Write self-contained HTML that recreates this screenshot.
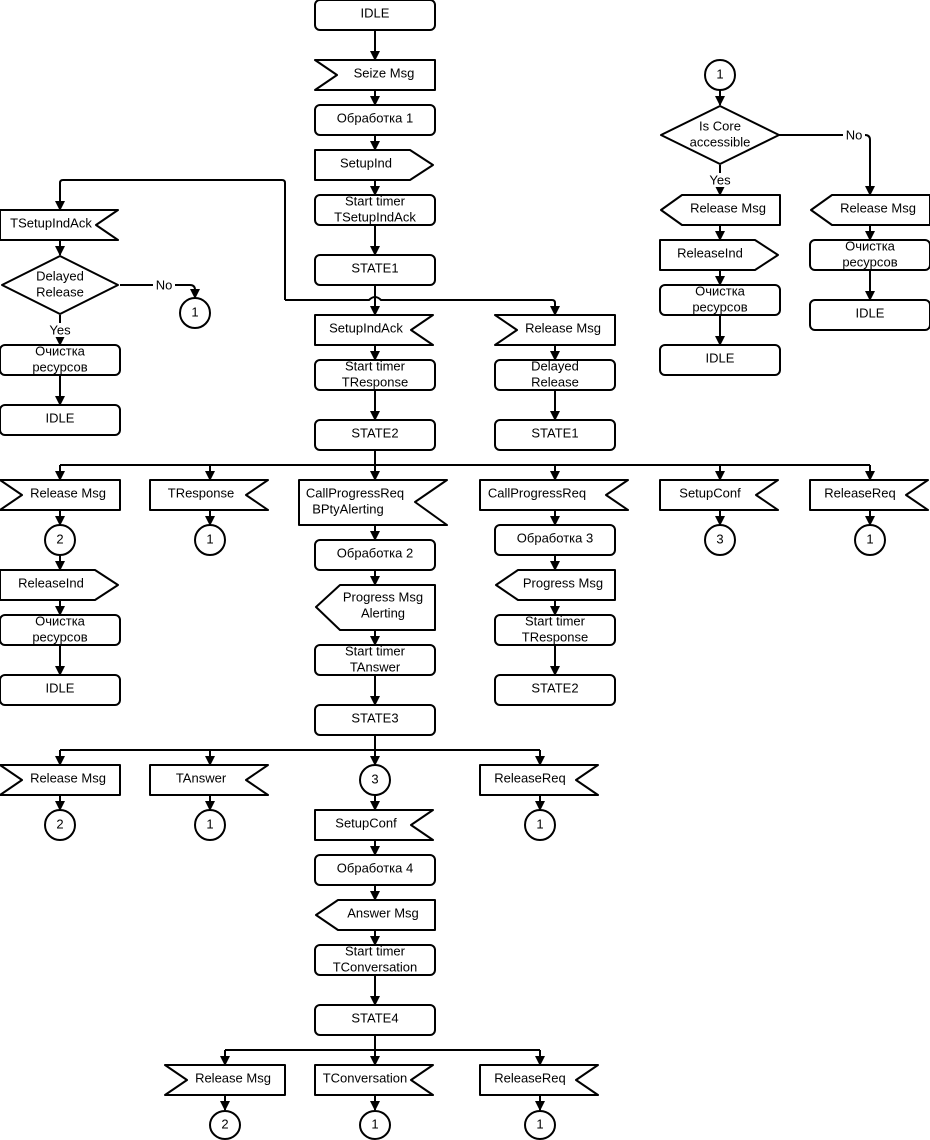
<!DOCTYPE html>
<html><head><meta charset="utf-8"><style>
html,body{margin:0;padding:0;background:#fff;}
svg{display:block;}
text{font-family:"Liberation Sans",sans-serif;font-size:13px;fill:#000;text-anchor:middle;dominant-baseline:central;}
.s{fill:#fff;stroke:#000;stroke-width:2;stroke-linejoin:round;}
.l{fill:none;stroke:#000;stroke-width:2;}
.a{fill:none;stroke:#000;stroke-width:2;marker-end:url(#ar);}
</style></head><body>
<svg width="930" height="1140" viewBox="0 0 930 1140" xmlns="http://www.w3.org/2000/svg">
<defs><marker id="ar" markerWidth="10" markerHeight="10" refX="9" refY="5" orient="auto" markerUnits="userSpaceOnUse"><path d="M0,0 L10,5 L0,10 z" fill="#000"/></marker></defs>

<!-- main column connectors -->
<line class="a" x1="375" y1="30" x2="375" y2="60"/>
<line class="a" x1="375" y1="90" x2="375" y2="105"/>
<line class="a" x1="375" y1="135" x2="375" y2="150"/>
<line class="a" x1="375" y1="180" x2="375" y2="195"/>
<line class="a" x1="375" y1="225" x2="375" y2="255"/>
<line class="a" x1="375" y1="285" x2="375" y2="315"/>
<line class="a" x1="375" y1="345" x2="375" y2="360"/>
<line class="a" x1="375" y1="390" x2="375" y2="420"/>
<line class="l" x1="375" y1="450" x2="375" y2="465"/>
<line class="l" x1="60" y1="465" x2="870" y2="465"/>
<line class="a" x1="60" y1="465" x2="60" y2="480"/>
<line class="a" x1="210" y1="465" x2="210" y2="480"/>
<line class="a" x1="375" y1="465" x2="375" y2="480"/>
<line class="a" x1="555" y1="465" x2="555" y2="480"/>
<line class="a" x1="720" y1="465" x2="720" y2="480"/>
<line class="a" x1="870" y1="465" x2="870" y2="480"/>

<!-- loop to left branch and to right (Release Msg) -->
<path class="a" d="M285,300 L285,183 Q285,180 282,180 L63,180 Q60,180 60,183 L60,210"/>
<path class="l" d="M285,300 L369,300 Q375,294 381,300 L552,300 Q555,300 555,303"/>
<line class="a" x1="555" y1="303" x2="555" y2="315"/>

<!-- left column -->
<line class="a" x1="60" y1="240" x2="60" y2="255"/>
<path class="a" d="M120,285 L190,285 Q195,285 195,290 L195,298"/>
<line class="a" x1="60" y1="315" x2="60" y2="345"/>
<line class="a" x1="60" y1="375" x2="60" y2="405"/>

<!-- 555 column -->
<line class="a" x1="555" y1="345" x2="555" y2="360"/>
<line class="a" x1="555" y1="390" x2="555" y2="420"/>

<!-- right top -->
<line class="a" x1="720" y1="90" x2="720" y2="105"/>
<line class="a" x1="720" y1="165" x2="720" y2="195"/>
<path class="a" d="M779,135 L865,135 Q870,135 870,140 L870,195"/>
<line class="a" x1="720" y1="225" x2="720" y2="240"/>
<line class="a" x1="720" y1="270" x2="720" y2="285"/>
<line class="a" x1="720" y1="315" x2="720" y2="345"/>
<line class="a" x1="870" y1="225" x2="870" y2="240"/>
<line class="a" x1="870" y1="270" x2="870" y2="300"/>

<!-- row 480 children -->
<line class="a" x1="60" y1="510" x2="60" y2="525"/>
<line class="a" x1="60" y1="555" x2="60" y2="570"/>
<line class="a" x1="60" y1="600" x2="60" y2="615"/>
<line class="a" x1="60" y1="645" x2="60" y2="675"/>
<line class="a" x1="210" y1="510" x2="210" y2="525"/>
<line class="a" x1="375" y1="525" x2="375" y2="540"/>
<line class="a" x1="375" y1="570" x2="375" y2="585"/>
<line class="a" x1="375" y1="630" x2="375" y2="645"/>
<line class="a" x1="375" y1="675" x2="375" y2="705"/>
<line class="a" x1="555" y1="510" x2="555" y2="525"/>
<line class="a" x1="555" y1="555" x2="555" y2="570"/>
<line class="a" x1="555" y1="600" x2="555" y2="615"/>
<line class="a" x1="555" y1="645" x2="555" y2="675"/>
<line class="a" x1="720" y1="510" x2="720" y2="525"/>
<line class="a" x1="870" y1="510" x2="870" y2="525"/>

<!-- STATE3 branches -->
<line class="l" x1="375" y1="735" x2="375" y2="750"/>
<line class="l" x1="60" y1="750" x2="540" y2="750"/>
<line class="a" x1="60" y1="750" x2="60" y2="765"/>
<line class="a" x1="210" y1="750" x2="210" y2="765"/>
<line class="a" x1="375" y1="750" x2="375" y2="765"/>
<line class="a" x1="540" y1="750" x2="540" y2="765"/>
<line class="a" x1="60" y1="795" x2="60" y2="810"/>
<line class="a" x1="210" y1="795" x2="210" y2="810"/>
<line class="a" x1="540" y1="795" x2="540" y2="810"/>
<line class="a" x1="375" y1="795" x2="375" y2="810"/>
<line class="a" x1="375" y1="840" x2="375" y2="855"/>
<line class="a" x1="375" y1="885" x2="375" y2="900"/>
<line class="a" x1="375" y1="930" x2="375" y2="945"/>
<line class="a" x1="375" y1="975" x2="375" y2="1005"/>
<line class="l" x1="375" y1="1035" x2="375" y2="1050"/>
<line class="l" x1="225" y1="1050" x2="540" y2="1050"/>
<line class="a" x1="225" y1="1050" x2="225" y2="1065"/>
<line class="a" x1="375" y1="1050" x2="375" y2="1065"/>
<line class="a" x1="540" y1="1050" x2="540" y2="1065"/>
<line class="a" x1="225" y1="1095" x2="225" y2="1110"/>
<line class="a" x1="375" y1="1095" x2="375" y2="1110"/>
<line class="a" x1="540" y1="1095" x2="540" y2="1110"/>

<!-- ===== shapes ===== -->
<!-- main column -->
<rect class="s" x="315" y="0" width="120" height="30" rx="5"/><text x="375" y="13">IDLE</text>
<polygon class="s" points="315,60 435,60 435,90 315,90 337,75"/><text x="384" y="73">Seize Msg</text>
<rect class="s" x="315" y="105" width="120" height="30" rx="5"/><text x="375" y="118">Обработка 1</text>
<polygon class="s" points="315,150 410,150 433,165 410,180 315,180"/><text x="366" y="163">SetupInd</text>
<rect class="s" x="315" y="195" width="120" height="30" rx="5"/><text x="375" y="201">Start timer</text><text x="375" y="217">TSetupIndAck</text>
<rect class="s" x="315" y="255" width="120" height="30" rx="5"/><text x="375" y="268">STATE1</text>
<polygon class="s" points="315,315 433,315 411,330 433,345 315,345"/><text x="366" y="328">SetupIndAck</text>
<rect class="s" x="315" y="360" width="120" height="30" rx="5"/><text x="375" y="366">Start timer</text><text x="375" y="382">TResponse</text>
<rect class="s" x="315" y="420" width="120" height="30" rx="5"/><text x="375" y="433">STATE2</text>

<!-- left top -->
<polygon class="s" points="0,210 118,210 96,225 118,240 0,240"/><text x="51" y="223">TSetupIndAck</text>
<polygon class="s" points="2,285 60,256 118,285 60,314"/><text x="60" y="276">Delayed</text><text x="60" y="292">Release</text>
<rect x="153" y="278" width="22" height="14" fill="#fff"/><text x="164" y="285">No</text>
<ellipse class="s" cx="195" cy="313" rx="15" ry="15"/><text x="195" y="312">1</text>
<rect x="46" y="323" width="28" height="14" fill="#fff"/><text x="60" y="330">Yes</text>
<rect class="s" x="0" y="345" width="120" height="30" rx="5"/><text x="60" y="351">Очистка</text><text x="60" y="367">ресурсов</text>
<rect class="s" x="0" y="405" width="120" height="30" rx="5"/><text x="60" y="418">IDLE</text>

<!-- 555 top -->
<polygon class="s" points="495,315 615,315 615,345 495,345 517,330"/><text x="563" y="328">Release Msg</text>
<rect class="s" x="495" y="360" width="120" height="30" rx="5"/><text x="555" y="366">Delayed</text><text x="555" y="382">Release</text>
<rect class="s" x="495" y="420" width="120" height="30" rx="5"/><text x="555" y="433">STATE1</text>

<!-- right top -->
<ellipse class="s" cx="720" cy="75" rx="15" ry="15"/><text x="720" y="74">1</text>
<polygon class="s" points="661,135 720,106 779,135 720,164"/><text x="720" y="126">Is Core</text><text x="720" y="142">accessible</text>
<rect x="843" y="128" width="22" height="14" fill="#fff"/><text x="854" y="135">No</text>
<rect x="706" y="173" width="28" height="14" fill="#fff"/><text x="720" y="180">Yes</text>
<polygon class="s" points="682,195 780,195 780,225 682,225 661,210"/><text x="728" y="208">Release Msg</text>
<polygon class="s" points="660,240 755,240 778,255 755,270 660,270"/><text x="710" y="253">ReleaseInd</text>
<rect class="s" x="660" y="285" width="120" height="30" rx="5"/><text x="720" y="291">Очистка</text><text x="720" y="307">ресурсов</text>
<rect class="s" x="660" y="345" width="120" height="30" rx="5"/><text x="720" y="358">IDLE</text>
<polygon class="s" points="832,195 930,195 930,225 832,225 811,210"/><text x="878" y="208">Release Msg</text>
<rect class="s" x="810" y="240" width="120" height="30" rx="5"/><text x="870" y="246">Очистка</text><text x="870" y="262">ресурсов</text>
<rect class="s" x="810" y="300" width="120" height="30" rx="5"/><text x="870" y="313">IDLE</text>

<!-- row 480 -->
<polygon class="s" points="0,480 120,480 120,510 0,510 22,495"/><text x="68" y="493">Release Msg</text>
<polygon class="s" points="150,480 268,480 246,495 268,510 150,510"/><text x="201" y="493">TResponse</text>
<polygon class="s" points="299,480 447,480 415,502 447,525 299,525"/><text x="355" y="493">CallProgressReq</text><text x="348" y="509">BPtyAlerting</text>
<polygon class="s" points="480,480 628,480 606,495 628,510 480,510"/><text x="537" y="493">CallProgressReq</text>
<polygon class="s" points="660,480 778,480 756,495 778,510 660,510"/><text x="710" y="493">SetupConf</text>
<polygon class="s" points="810,480 928,480 906,495 928,510 810,510"/><text x="860" y="493">ReleaseReq</text>

<ellipse class="s" cx="60" cy="540" rx="15" ry="15"/><text x="60" y="539">2</text>
<polygon class="s" points="0,570 95,570 118,585 95,600 0,600"/><text x="51" y="583">ReleaseInd</text>
<rect class="s" x="0" y="615" width="120" height="30" rx="5"/><text x="60" y="621">Очистка</text><text x="60" y="637">ресурсов</text>
<rect class="s" x="0" y="675" width="120" height="30" rx="5"/><text x="60" y="688">IDLE</text>
<ellipse class="s" cx="210" cy="540" rx="15" ry="15"/><text x="210" y="539">1</text>

<rect class="s" x="315" y="540" width="120" height="30" rx="5"/><text x="375" y="553">Обработка 2</text>
<polygon class="s" points="340,585 435,585 435,630 340,630 316,607"/><text x="383" y="597">Progress Msg</text><text x="383" y="613">Alerting</text>
<rect class="s" x="315" y="645" width="120" height="30" rx="5"/><text x="375" y="651">Start timer</text><text x="375" y="667">TAnswer</text>
<rect class="s" x="315" y="705" width="120" height="30" rx="5"/><text x="375" y="718">STATE3</text>

<rect class="s" x="495" y="525" width="120" height="30" rx="5"/><text x="555" y="538">Обработка 3</text>
<polygon class="s" points="518,570 615,570 615,600 518,600 496,585"/><text x="563" y="583">Progress Msg</text>
<rect class="s" x="495" y="615" width="120" height="30" rx="5"/><text x="555" y="621">Start timer</text><text x="555" y="637">TResponse</text>
<rect class="s" x="495" y="675" width="120" height="30" rx="5"/><text x="555" y="688">STATE2</text>

<ellipse class="s" cx="720" cy="540" rx="15" ry="15"/><text x="720" y="539">3</text>
<ellipse class="s" cx="870" cy="540" rx="15" ry="15"/><text x="870" y="539">1</text>

<!-- row 765 -->
<polygon class="s" points="0,765 120,765 120,795 0,795 22,780"/><text x="68" y="778">Release Msg</text>
<polygon class="s" points="150,765 268,765 246,780 268,795 150,795"/><text x="201" y="778">TAnswer</text>
<ellipse class="s" cx="375" cy="780" rx="15" ry="15"/><text x="375" y="779">3</text>
<polygon class="s" points="480,765 598,765 576,780 598,795 480,795"/><text x="530" y="778">ReleaseReq</text>
<ellipse class="s" cx="60" cy="825" rx="15" ry="15"/><text x="60" y="824">2</text>
<ellipse class="s" cx="210" cy="825" rx="15" ry="15"/><text x="210" y="824">1</text>
<ellipse class="s" cx="540" cy="825" rx="15" ry="15"/><text x="540" y="824">1</text>

<polygon class="s" points="315,810 433,810 411,825 433,840 315,840"/><text x="366" y="823">SetupConf</text>
<rect class="s" x="315" y="855" width="120" height="30" rx="5"/><text x="375" y="868">Обработка 4</text>
<polygon class="s" points="338,900 435,900 435,930 338,930 316,915"/><text x="383" y="913">Answer Msg</text>
<rect class="s" x="315" y="945" width="120" height="30" rx="5"/><text x="375" y="951">Start timer</text><text x="375" y="967">TConversation</text>
<rect class="s" x="315" y="1005" width="120" height="30" rx="5"/><text x="375" y="1018">STATE4</text>

<polygon class="s" points="165,1065 285,1065 285,1095 165,1095 187,1080"/><text x="233" y="1078">Release Msg</text>
<polygon class="s" points="315,1065 433,1065 411,1080 433,1095 315,1095"/><text x="365" y="1078">TConversation</text>
<polygon class="s" points="480,1065 598,1065 576,1080 598,1095 480,1095"/><text x="530" y="1078">ReleaseReq</text>
<ellipse class="s" cx="225" cy="1125" rx="15" ry="14"/><text x="225" y="1124">2</text>
<ellipse class="s" cx="375" cy="1125" rx="15" ry="14"/><text x="375" y="1124">1</text>
<ellipse class="s" cx="540" cy="1125" rx="15" ry="14"/><text x="540" y="1124">1</text>
</svg>
</body></html>
